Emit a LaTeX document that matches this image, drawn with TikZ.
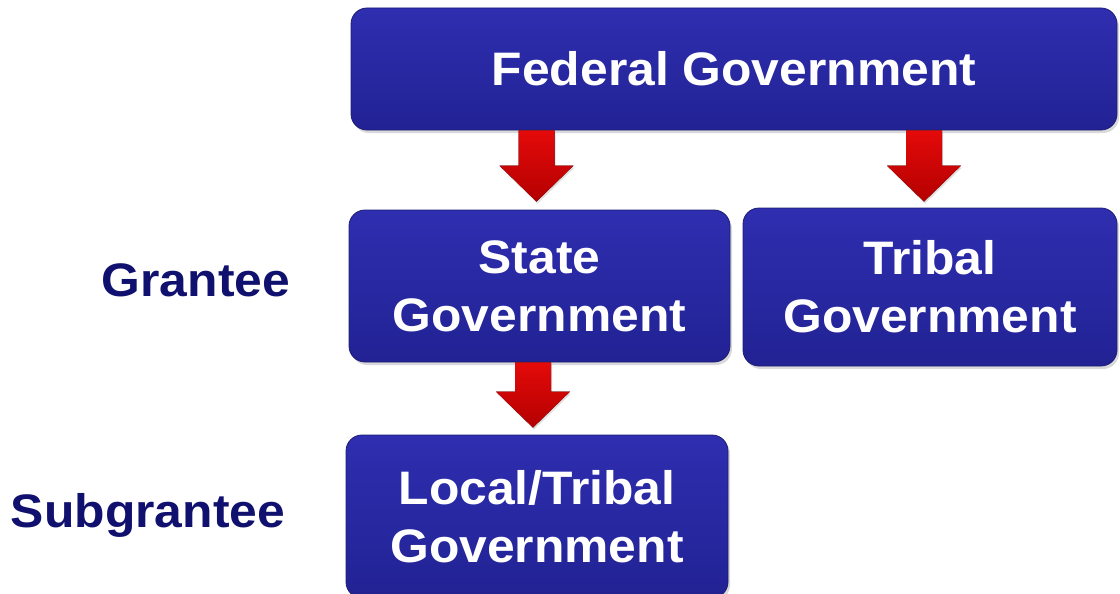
\documentclass[tikz,border=0pt]{standalone}
\usepackage{fontspec}
\setmainfont{Liberation Sans}[FakeStretch=1.06]
\usetikzlibrary{shadows,calc}
\definecolor{boxtop}{RGB}{46,46,176}
\definecolor{boxbot}{RGB}{34,34,148}
\definecolor{boxedge}{RGB}{28,28,115}
\definecolor{arrowlight}{RGB}{228,10,10}
\definecolor{arrowdark}{RGB}{180,0,0}
\definecolor{labelnavy}{RGB}{16,16,110}
\newcommand\flowarrow[2]{%
  \fill[redarrow] ($(#1)+(-18,0)$) -- ($(#2)+(-18,-36)$) -- ($(#2)+(-37,-36)$) -- (#2)
    -- ($(#2)+(37,-36)$) -- ($(#2)+(18,-36)$) -- ($(#1)+(18,0)$) -- cycle;}
\begin{document}
\begin{tikzpicture}[x=1pt,y=-1pt,
  govbox/.style={draw=boxedge, line width=0.8pt, rounded corners=16pt,
    top color=boxtop, bottom color=boxbot, text=white,
    font=\fontsize{47}{58}\selectfont\bfseries, align=center, inner sep=0pt,
    drop shadow={opacity=0.3, shadow xshift=2pt, shadow yshift=-3pt}},
  sidelabel/.style={text=labelnavy, font=\fontsize{47}{58}\selectfont\bfseries, anchor=base, inner sep=0pt},
  redarrow/.style={top color=arrowlight, bottom color=arrowdark,
    drop shadow={opacity=0.25, shadow xshift=1pt, shadow yshift=-2pt}}]
\useasboundingbox (0,0) rectangle (1120,594);
\node[govbox, minimum width=766pt, minimum height=122pt] (fed) at (734,69) {Federal Government};
\node[govbox, minimum width=381pt, minimum height=152pt] (state) at (539.5,286) {State\\Government};
\node[govbox, minimum width=374pt, minimum height=158pt] (tribal) at (930,287) {Tribal\\Government};
\node[govbox, minimum width=382pt, minimum height=163pt] (local) at (537,516.5) {Local/Tribal\\Government};
\node[sidelabel] (grantee) at (196,296) {Grantee};
\node[sidelabel] (subgrantee) at (148,527) {Subgrantee};
\coordinate (a1tip) at ($(state.north)+(-3,-8)$);
\coordinate (a1top) at (a1tip |- fed.south);
\coordinate (a2tip) at ($(tribal.north)+(-6,-6)$);
\coordinate (a2top) at (a2tip |- fed.south);
\coordinate (a3tip) at ($(local.north)+(-4,-7)$);
\coordinate (a3top) at (a3tip |- state.south);
\flowarrow{a1top}{a1tip}
\flowarrow{a2top}{a2tip}
\flowarrow{a3top}{a3tip}
\end{tikzpicture}
\end{document}
